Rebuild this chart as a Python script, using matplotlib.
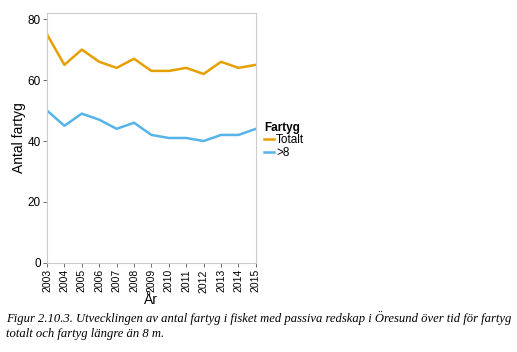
import matplotlib.pyplot as plt

# Data
years = list(range(2003, 2016))
totalt = [75, 65, 70, 66, 64, 67, 63, 63, 64, 62, 66, 64, 65]
over8 = [50, 45, 49, 47, 44, 46, 42, 41, 41, 40, 42, 42, 44]
series_labels = ["Totalt", ">8"]

caption = ("Figur 2.10.3. Utvecklingen av antal fartyg i fisket med passiva redskap i Öresund över tid för fartyg\n"
           "totalt och fartyg längre än 8 m.")

plt.rcParams['font.family'] = ['Liberation Sans', 'DejaVu Sans']

fig = plt.figure(figsize=(5.17, 3.52), dpi=100)
ax = fig.add_axes([0.0909, 0.253, 0.404, 0.710])

ax.plot(years, totalt, color='#E69F00', lw=1.8, label=series_labels[0])
ax.plot(years, over8, color='#56B4E9', lw=1.8, label=series_labels[1])

ax.set_xlim(2003, 2015)
ax.set_ylim(0, 82)
ax.set_yticks([0, 20, 40, 60, 80])
ax.set_xticks(years)
ax.set_xticklabels([str(y) for y in years], rotation=90, fontsize=7.5)
ax.tick_params(axis='y', labelsize=8.5, length=3, width=0.6, color='#555555', pad=1.5)
ax.tick_params(axis='x', length=3, width=0.6, color='#555555', pad=1.5)
for s in ax.spines.values():
    s.set_color('#cccccc')
    s.set_linewidth(0.8)

ax.set_ylabel("Antal fartyg", fontsize=10)
ax.yaxis.set_label_coords(-0.1, 0.5)
ax.set_xlabel("År", fontsize=10, labelpad=0)

leg = ax.legend(title="Fartyg", loc='center left', bbox_to_anchor=(1.0, 0.49),
                frameon=False, fontsize=8.5, handlelength=0.8, handletextpad=0.2,
                labelspacing=0.05, borderaxespad=0.3)
leg.get_title().set_fontweight('bold')
leg.get_title().set_fontsize(8.5)
leg._legend_box.align = "left"

fig.text(0.012, 0.035, caption, fontsize=9.1, family=['Liberation Serif', 'DejaVu Serif'],
         style='italic', ha='left', va='bottom', linespacing=1.3)

fig.savefig("out.png", dpi=100)
